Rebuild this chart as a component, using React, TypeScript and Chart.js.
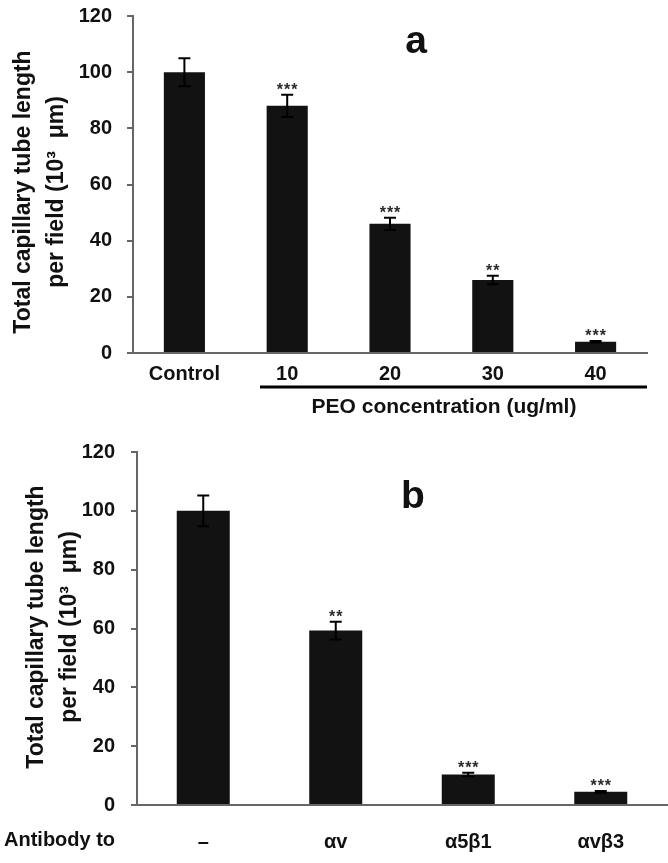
import React, { useEffect, useRef } from "react";
import { Chart, registerables } from "chart.js";

Chart.register(...registerables);

const FONT = "'Liberation Sans', Arial, sans-serif";

// ---- Panel a data ----
const categoriesA = ["Control", "10", "20", "30", "40"];
const valuesA = [100, 88, 46, 26, 4];
const errorsA = [5, 4, 2.2, 1.5, 0.3];
const starsA = ["", "***", "***", "**", "***"];

// ---- Panel b data ----
const categoriesB = ["–", "αv", "α5β1", "αvβ3"];
const valuesB = [100, 59.3, 10.4, 4.5];
const errorsB = [5.2, 3, 0.6, 0.3];
const starsB = ["", "**", "***", "***"];

const yTitleLines = ["Total capillary tube length", "per field (10³  μm)"];
const yMin = 0;
const yMax = 120;
const yStep = 20;

type PanelCfg = {
  letter: string;
  categories: string[];
  values: number[];
  errors: number[];
  stars: string[];
  width: number;
  height: number;
  top: number;
  area: { left: number; right: number; top: number; bottom: number };
  tickPad: number;
  yTickPad: number;
  titleX: [number, number];
  titleY: number;
  letterX: number;
  letterBase: number;
  extra: (ctx: CanvasRenderingContext2D) => void;
};

function makeAnnot(cfg: PanelCfg) {
  return {
    id: "annot" + cfg.letter,
    afterDatasetsDraw(chart: any) {
      const ctx: CanvasRenderingContext2D = chart.ctx;
      const meta = chart.getDatasetMeta(0);
      const ys = chart.scales.y;
      ctx.save();
      meta.data.forEach((bar: any, i: number) => {
        const v = cfg.values[i];
        const e = cfg.errors[i];
        const yt = ys.getPixelForValue(v + e);
        const yb = ys.getPixelForValue(v - e);
        const cap = 6;
        ctx.strokeStyle = "#000";
        ctx.lineWidth = 2;
        ctx.beginPath();
        ctx.moveTo(bar.x, yt);
        ctx.lineTo(bar.x, yb);
        ctx.moveTo(bar.x - cap, yt);
        ctx.lineTo(bar.x + cap, yt);
        ctx.moveTo(bar.x - cap, yb);
        ctx.lineTo(bar.x + cap, yb);
        ctx.stroke();
        const s = cfg.stars[i];
        if (s) {
          ctx.fillStyle = "#2a2a2a";
          ctx.font = `bold 16px ${FONT}`;
          (ctx as any).letterSpacing = "1px";
          ctx.textAlign = "center";
          ctx.textBaseline = "alphabetic";
          ctx.fillText(s, bar.x + 0.5, yt);
          (ctx as any).letterSpacing = "0px";
        }
      });
      ctx.restore();
    },
    afterDraw(chart: any) {
      const ctx: CanvasRenderingContext2D = chart.ctx;
      ctx.save();
      // y title
      ctx.fillStyle = "#111";
      ctx.font = `bold 23px ${FONT}`;
      ctx.textAlign = "center";
      ctx.textBaseline = "middle";
      yTitleLines.forEach((line, k) => {
        ctx.save();
        ctx.translate(cfg.titleX[k], cfg.titleY);
        ctx.rotate(-Math.PI / 2);
        ctx.fillText(line, 0, 0);
        ctx.restore();
      });
      // panel letter
      ctx.font = `bold 39px ${FONT}`;
      ctx.textBaseline = "alphabetic";
      ctx.fillText(cfg.letter, cfg.letterX, cfg.letterBase);
      cfg.extra(ctx);
      ctx.restore();
    },
  };
}

const panelA: PanelCfg = {
  letter: "a",
  categories: categoriesA,
  values: valuesA,
  errors: errorsA,
  stars: starsA,
  width: 668,
  height: 420,
  top: 0,
  area: { left: 133, right: 647, top: 16, bottom: 353 },
  tickPad: 9,
  yTickPad: 15,
  titleX: [24, 57],
  titleY: 192,
  letterX: 416,
  letterBase: 53,
  extra: (ctx) => {
    ctx.strokeStyle = "#000";
    ctx.lineWidth = 3;
    ctx.beginPath();
    ctx.moveTo(260, 387);
    ctx.lineTo(647, 387);
    ctx.stroke();
    ctx.fillStyle = "#111";
    ctx.font = `bold 21px ${FONT}`;
    ctx.textAlign = "center";
    ctx.textBaseline = "middle";
    ctx.fillText("PEO concentration (ug/ml)", 444, 407);
  },
};

const panelB: PanelCfg = {
  letter: "b",
  categories: categoriesB,
  values: valuesB,
  errors: errorsB,
  stars: starsB,
  width: 668,
  height: 443,
  top: 420,
  area: { left: 137, right: 667, top: 32, bottom: 385 },
  tickPad: 25,
  yTickPad: 16,
  titleX: [37, 70],
  titleY: 207,
  letterX: 413,
  letterBase: 88,
  extra: (ctx) => {
    ctx.fillStyle = "#111";
    ctx.font = `bold 20px ${FONT}`;
    ctx.textAlign = "left";
    ctx.textBaseline = "middle";
    ctx.fillText("Antibody to", 4, 420);
  },
};

function Panel({ cfg }: { cfg: PanelCfg }) {
  const ref = useRef<HTMLCanvasElement>(null);
  useEffect(() => {
    if (!ref.current) return;
    const a = cfg.area;
    const chart = new Chart(ref.current, {
      type: "bar",
      data: {
        labels: cfg.categories,
        datasets: [
          {
            data: cfg.values,
            backgroundColor: "#121212",
            borderWidth: 0,
            barPercentage: 0.4,
            categoryPercentage: 1,
          },
        ],
      },
      options: {
        responsive: false,
        animation: false,
        devicePixelRatio: 1,
        layout: {
          padding: { left: 0, top: a.top, right: cfg.width - a.right, bottom: 0 },
        },
        plugins: {
          legend: { display: false },
          tooltip: { enabled: false },
        },
        scales: {
          x: {
            offset: true,
            grid: { display: false, drawTicks: false },
            border: { display: true, color: "#666", width: 2 },
            ticks: {
              color: "#111",
              padding: cfg.tickPad,
              font: { family: FONT, weight: "bold", size: 20 },
              maxRotation: 0,
              autoSkip: false,
            },
            afterFit: (s: any) => {
              s.height = cfg.height - a.bottom;
              s.paddingLeft = 0;
              s.paddingRight = 0;
            },
          },
          y: {
            min: yMin,
            max: yMax,
            grid: {
              display: true,
              drawOnChartArea: false,
              drawTicks: true,
              tickLength: 6,
              color: "#666",
              lineWidth: 2,
            },
            border: { display: true, color: "#666", width: 2 },
            ticks: {
              stepSize: yStep,
              color: "#111",
              padding: cfg.yTickPad,
              font: { family: FONT, weight: "bold", size: 20 },
            },
            afterFit: (s: any) => {
              s.width = a.left;
              s.paddingTop = 0;
              s.paddingBottom = 0;
            },
          },
        },
      },
      plugins: [makeAnnot(cfg)],
    } as any);
    return () => chart.destroy();
  }, [cfg]);
  return (
    <canvas
      ref={ref}
      width={cfg.width}
      height={cfg.height}
      style={{ position: "absolute", left: 0, top: cfg.top, width: cfg.width, height: cfg.height }}
    />
  );
}

export default function App() {
  return (
    <div
      style={{
        position: "fixed",
        left: 0,
        top: 0,
        width: 668,
        height: 863,
        background: "#fff",
        overflow: "hidden",
      }}
    >
      <Panel cfg={panelA} />
      <Panel cfg={panelB} />
    </div>
  );
}
